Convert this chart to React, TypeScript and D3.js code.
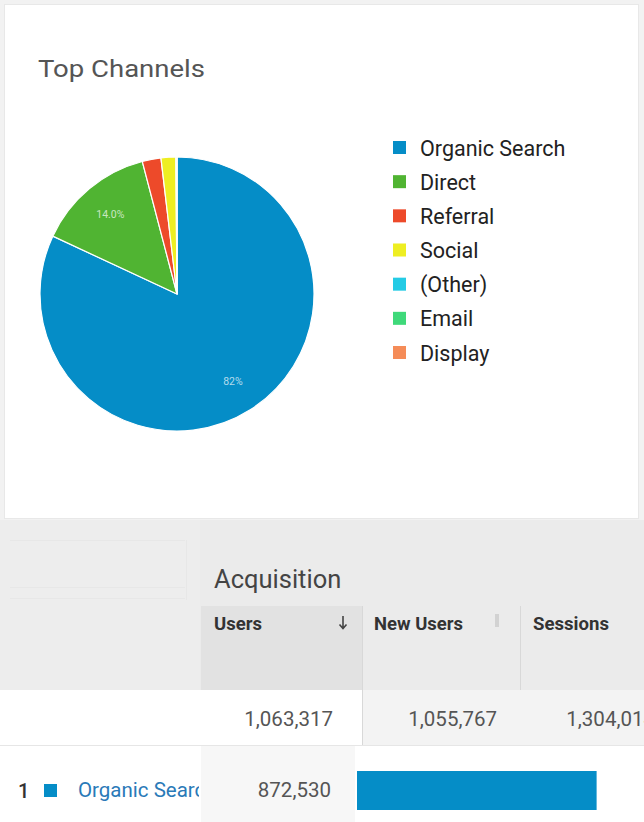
// @ts-nocheck
import React from "react";
import * as d3 from "d3";

// channel data (users per channel)
const channels = ["Organic Search", "Direct", "Referral", "Social", "(Other)", "Email", "Display"];
const channelUsers = [872530, 148900, 23500, 18500, 900, 400, 120];
const channelColors = ["#058dc7", "#50b432", "#ed4a2a", "#eeee22", "#24cbe5", "#3fd97a", "#f58c58"];
const sliceLabels = ["82%", "14.0%"];

// table
const columns = ["Users", "New Users", "Sessions"];
const totals = ["1,063,317", "1,055,767", "1,304,014"];
const totalUsers = 1063317;
const rowLabel = "Organic Search";
const rowUsers = 872530;

const W = 644;
const H = 822;

const App = () => {
  const cx = 177, cy = 294, r = 137;
  const pie = d3.pie().sort(null).value((d) => d);
  const arcs = pie(channelUsers);
  const arc = d3.arc().innerRadius(0).outerRadius(r);
  const labelArc = d3.arc().innerRadius(104).outerRadius(104);

  const legendY = d3.scalePoint().domain(channels).range([148, 353]);

  const barX = d3.scaleLinear().domain([0, totalUsers]).range([0, 292]);

  const font = "Roboto, 'Noto Sans', sans-serif";
  const colX = [214, 374, 533];
  const totalX = [333, 497, 655];

  return (
    <>
      <style>{`body{margin:0;background:#f2f2f2}`}</style>
      <svg width={W} height={H} style={{ display: "block", fontFamily: font }}>
        <defs>
          <clipPath id="leftCell"><rect x={0} y={745} width={199} height={80} /></clipPath>
        </defs>
        <rect x={0} y={0} width={W} height={H} fill="#f2f2f2" />
        {/* card */}
        <rect x={4.5} y={4.5} width={634} height={514} fill="#fff" stroke="#e8e8e8" />
        <text x={38} y={77} fontSize={24} fill="#555" textLength={167} lengthAdjust="spacingAndGlyphs">Top Channels</text>

        <g transform={`translate(${cx},${cy})`}>
          {arcs.map((a, i) => (
            <path key={i} d={arc(a)} fill={channelColors[i]} stroke="#fff" strokeWidth={1.2} />
          ))}
          {sliceLabels.map((t, i) => {
            const [lx, ly] = labelArc.centroid(arcs[i]);
            return (
              <text key={i} x={lx} y={ly} fontSize={10.5} fill="#fff" fillOpacity={0.7} textAnchor="middle" dominantBaseline="central">{t}</text>
            );
          })}
        </g>

        {channels.map((c, i) => (
          <g key={c} transform={`translate(0,${legendY(c)})`}>
            <rect x={393} y={-7} width={13} height={13} fill={channelColors[i]} />
            <text x={420} y={0} fontSize={21.5} fill="#222" dominantBaseline="central">{c}</text>
          </g>
        ))}

        {/* table header area */}
        <rect x={0} y={520} width={W} height={170} fill="#ebebeb" />
        <rect x={0} y={520} width={200} height={170} fill="#ededed" />
        <line x1={10} x2={185} y1={540.5} y2={540.5} stroke="#e7e7e7" />
        <line x1={10} x2={185} y1={587.5} y2={587.5} stroke="#e7e7e7" />
        <line x1={10} x2={185} y1={598.5} y2={598.5} stroke="#e7e7e7" />
        <line x1={186.5} x2={186.5} y1={540} y2={600} stroke="#e7e7e7" />
        <text x={214} y={588} fontSize={25.5} fill="#444">Acquisition</text>

        <rect x={201} y={606} width={161} height={84} fill="#e2e2e2" />
        <line x1={362.5} x2={362.5} y1={606} y2={745} stroke="#d8d8d8" />
        <line x1={520.5} x2={520.5} y1={606} y2={745} stroke="#d8d8d8" />
        <rect x={495} y={614} width={4} height={13} fill="#d2d2d2" />
        {columns.map((c, i) => (
          <text key={c} x={colX[i]} y={630} fontSize={19} fontWeight="bold" fill="#333" textLength={[48, 89, 76][i]} lengthAdjust="spacingAndGlyphs">{c}</text>
        ))}
        <path d="M343,616 V628 M339.5,624.5 L343,628.5 L346.5,624.5" fill="none" stroke="#444" strokeWidth={1.6} />

        {/* totals row */}
        <rect x={0} y={690} width={362} height={55} fill="#fff" />
        <rect x={363} y={690} width={W - 363} height={55} fill="#f3f3f3" />
        {totals.map((t, i) => (
          <text key={t} x={totalX[i]} y={726} fontSize={20.5} fill="#555" textAnchor="end">{t}</text>
        ))}

        {/* row 1 */}
        <rect x={0} y={745} width={W} height={77} fill="#fff" />
        <line x1={0} x2={W} y1={745.5} y2={745.5} stroke="#e6e6e6" />
        <rect x={201} y={746} width={154} height={76} fill="#f7f7f7" />
        <text x={18} y={798} fontSize={20} fontWeight="500" fill="#333">1</text>
        <rect x={44} y={784} width={13} height={13} fill={channelColors[0]} />
        <text x={78} y={797} fontSize={20.5} fill="#2a7ab8" clipPath="url(#leftCell)">{rowLabel}</text>
        <text x={331} y={797} fontSize={20.5} fill="#555" textAnchor="end">{d3.format(",")(rowUsers)}</text>
        <rect x={357} y={771} width={barX(rowUsers)} height={39} fill={channelColors[0]} />
      </svg>
    </>
  );
};

export default App;
